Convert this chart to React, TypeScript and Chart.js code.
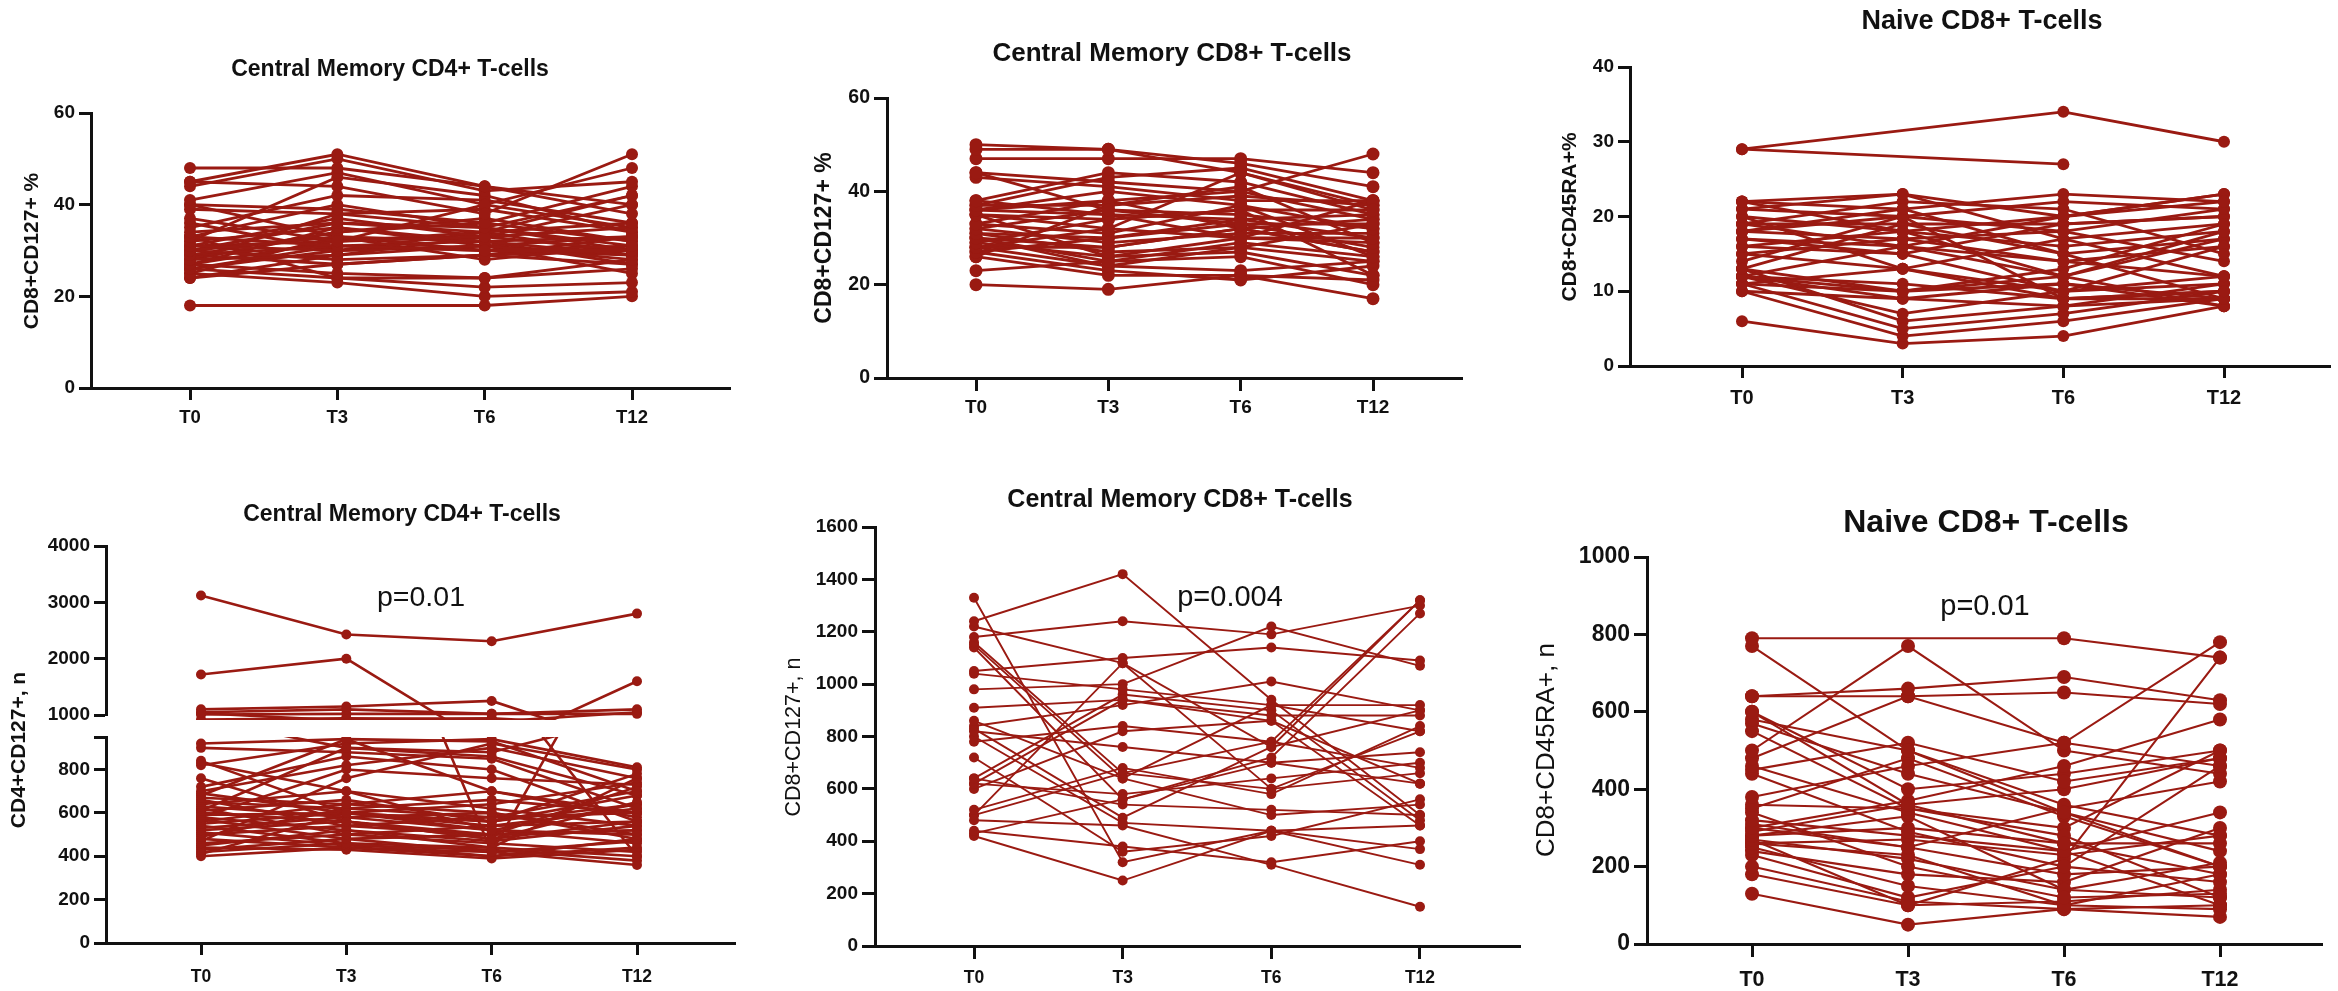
import React, { useEffect, useRef } from "react";
import { Chart, registerables } from "chart.js";

Chart.register(...registerables);

const timepoints = ["T0", "T3", "T6", "T12"];
const RED = "#9a1a12";

type Row = (number | null)[];

// Central Memory CD4+ T-cells, % (T0, T3, T6, T12 per subject)
const cm4Pct: Row[] = [
  [48, 48, 44, 38], [45, 51, 44, 40], [44, 50, 43, 45], [45, 44, 38, 51], [41, 47, 40, 48],
  [40, 39, 36, 44], [39, 38, 35, 42], [37, 32, 33, 40], [34, 36, 34, 36], [33, 40, 35, 31],
  [33, 31, 30, 30], [32, 35, 32, 29], [31, 37, 33, 35], [31, 30, 31, 28], [30, 33, 32, 33],
  [30, 28, 29, 27], [29, 34, 37, 32], [29, 31, 30, 31], [28, 29, 33, 30], [28, 38, 39, 34],
  [27, 25, 24, 26], [27, 32, 34, 29], [26, 24, 22, 23], [26, 30, 31, 25], [25, 33, 28, 31],
  [25, 23, 20, 21], [24, 27, 29, 30], [24, 29, 31, 33], [18, null, 18, 20], [35, 42, 41, 36],
  [32, 46, 42, 34], [40, 33, 30, 29], [30, 36, 35, 30], [28, 34, 36, 32], [26, 31, 32, 27],
  [36, 30, 34, 42], [29, 27, 29, 33], [31, 32, 40, 35], [33, 24, 24, 28], [27, 35, 31, 29],
];

// Central Memory CD8+ T-cells, %
const cm8Pct: Row[] = [
  [50, 49, 44, 36], [49, 49, 46, 41], [47, 47, 47, 44], [44, 42, 40, 48], [43, 41, 38, 38],
  [44, 36, 33, 33], [38, 44, 42, 35], [37, 37, 39, 37], [36, 40, 37, 32], [36, 35, 34, 30],
  [35, 34, 36, 36], [35, 32, 30, 29], [33, 38, 40, 34], [32, 29, 31, 31], [31, 30, 33, 28],
  [31, 27, 28, 33], [30, 25, 29, 26], [29, 34, 36, 22], [29, 26, 30, 30], [28, 28, 32, 27],
  [28, 24, 23, 25], [27, 23, 21, 24], [27, 30, 34, 35], [26, 22, 22, 21], [23, 25, 26, 20],
  [20, 19, 22, 17], [38, 35, 30, 38], [37, 43, 45, 38], [32, 36, 35, 32], [30, 28, 32, 34],
  [33, 31, 37, 26], [26, 37, 41, 29], [35, 26, 27, 22], [28, 32, 44, 37], [36, 38, 32, 27],
  [30, 24, 28, 25],
];

// Naive CD8+ T-cells, %
const naive8Pct: Row[] = [
  [29, null, 34, 30], [29, null, 27, null], [22, 21, 23, 22], [22, 23, 20, 23], [21, 20, 18, 21],
  [21, 23, 17, 19], [20, 18, 16, 18], [19, 19, 19, 20], [19, 22, 21, 15], [18, 17, 14, 16],
  [18, 20, 22, 21], [17, 16, 12, 17], [17, 15, 19, 20], [16, 18, 20, 22], [16, 15, 10, 12],
  [15, 17, 18, 14], [15, 13, 9, 10], [13, 19, 15, 17], [13, 10, 11, 9], [12, 10, 13, 19],
  [12, 9, 8, 9], [12, 7, 10, 11], [11, 10, 12, 8], [11, 5, 7, 10], [11, 13, 17, 12],
  [10, 4, 6, 9], [10, 9, 11, 8], [6, 3, 4, 8], [12, 16, 14, 12], [14, 20, 9, 9],
  [20, 13, 10, 16], [18, 21, 15, 9], [13, 6, 8, 11], [19, 16, 20, 23], [22, 18, 12, 18],
  [12, 11, 9, 10],
];

// Central Memory CD4+ T-cells, n
const cm4Count: Row[] = [
  [3120, 2430, 2310, 2800], [1720, 2000, 420, 1600], [1100, 1150, 1250, 400], [1050, 1100, 1020, 1100],
  [1010, 1020, 1020, 1020], [1030, 900, 880, 1050],
  [920, 940, 930, 700], [900, 880, 850, 620], [840, 600, 560, 780], [820, 920, 940, 810],
  [830, 700, 520, 500], [760, 560, 480, 650], [700, 820, 900, 760], [690, 600, 540, 560],
  [670, 640, 600, 480], [660, 540, 500, 720], [650, 620, 580, 600], [640, 700, 620, 540],
  [630, 580, 520, 460], [620, 500, 460, 420], [610, 660, 560, 680], [600, 560, 500, 520],
  [590, 600, 640, 740], [580, 520, 440, 400], [570, 480, 420, 360], [560, 640, 700, 580],
  [550, 600, 520, 640], [540, 460, 400, 440], [530, 580, 600, 500], [520, 560, 480, 560],
  [510, 450, 430, 380], [500, 540, 580, 700], [490, 620, 660, 600], [480, 440, 420, 470],
  [460, 500, 540, 620], [450, 520, 470, 540], [440, 430, 390, 430], [430, 480, 500, 520],
  [420, 460, 440, 760], [410, 600, 560, 640], [400, 440, 400, 480], [720, 860, 800, 560],
  [610, 900, 860, 680], [470, 760, 920, 800], [680, 940, 700, 600], [580, 800, 760, 730],
];

// Central Memory CD8+ T-cells, n
const cm8Count: Row[] = [
  [1330, 320, 440, 370], [1240, 1420, 940, 500], [1220, 1080, 760, 1320], [1180, 1240, 1190, 1300],
  [1160, 660, 600, 820], [1140, 560, 720, 1270], [1050, 1100, 1140, 1090], [1040, 980, 920, 920],
  [980, 1000, 1220, 1070], [910, 940, 880, 880], [860, 640, 500, 540], [840, 920, 1010, 900],
  [820, 760, 700, 740], [800, 470, 440, 460], [780, 840, 780, 680], [720, 360, 420, 560],
  [640, 960, 900, 480], [620, 580, 640, 700], [600, 820, 860, 620], [520, 680, 580, 840],
  [500, 1080, 600, 660], [480, 460, 310, 150], [440, 380, 320, 400], [420, 250, 440, 310],
  [640, 540, 520, 500], [830, 490, 760, 900], [1150, 640, 920, 820], [500, 660, 780, 1320],
  [430, 560, 700, 620], [620, 940, 860, 460],
];

// Naive CD8+ T-cells, n
const naive8Count: Row[] = [
  [790, null, 790, 740], [770, 500, 340, 200], [640, 660, 690, 630], [640, 640, 520, 460],
  [600, 360, 260, 180], [580, 500, 360, 280], [570, 440, 340, 240], [550, 350, 280, 120],
  [500, 770, 500, 440], [480, 640, 650, 620], [460, 340, 240, 100], [450, 520, 420, 480],
  [440, 290, 200, 160], [380, 460, 520, 780], [360, 350, 300, 500], [340, 200, 120, 130],
  [320, 280, 240, 340], [300, 250, 180, 200], [290, 360, 400, 480], [280, 300, 260, 260],
  [270, 220, 140, 120], [260, 270, 230, 280], [250, 150, 100, 90], [240, 180, 160, 300],
  [200, 110, 90, 70], [180, 100, 110, 140], [130, 50, 90, 100], [300, 370, 460, 580],
  [270, 100, 220, 740], [350, 480, 330, 200], [260, 230, 100, 180], [310, 250, 350, 420],
  [230, 120, 200, 460], [280, 330, 140, 210], [600, 400, 440, 500],
];

const pctTicks = [0, 20, 40, 60];
const naivePctTicks = [0, 10, 20, 30, 40];
const cm4UpperTicks = [1000, 2000, 3000, 4000];
const cm4LowerTicks = [0, 200, 400, 600, 800, 950];
const cm8CountTicks = [0, 200, 400, 600, 800, 1000, 1200, 1400, 1600];
const naiveCountTicks = [0, 200, 400, 600, 800, 1000];

interface TextItem { text: string; x: number; y: number; size: number; bold?: boolean; rotate?: boolean }

interface Panel {
  box: { left: number; top: number; width: number; height: number };
  area: { l: number; r: number; t: number; b: number };
  t0: number; t12: number;
  rows: Row[];
  yMin: number; yMax: number; yTicks: number[]; hidden?: number[];
  showX: boolean;
  tickSize: number; xSize: number; labelY: number; tickLen: number;
  lineWidth: number; radius: number;
  clip?: any;
  texts: TextItem[];
}

const panels: Panel[] = [
  {
    box: { left: 0, top: 0, width: 780, height: 450 },
    area: { l: 91, r: 730, t: 113, b: 388 }, t0: 190, t12: 632,
    rows: cm4Pct, yMin: 0, yMax: 60, yTicks: pctTicks, showX: true,
    tickSize: 19, xSize: 18.5, labelY: 418, tickLen: 12, lineWidth: 2.8, radius: 6,
    texts: [
      { text: "Central Memory CD4+ T-cells", x: 390, y: 70, size: 23, bold: true },
      { text: "CD8+CD127+ %", x: 32, y: 251, size: 21, bold: true, rotate: true },
    ],
  },
  {
    box: { left: 780, top: 0, width: 780, height: 450 },
    area: { l: 887, r: 1462, t: 98, b: 378 }, t0: 976, t12: 1373,
    rows: cm8Pct, yMin: 0, yMax: 60, yTicks: pctTicks, showX: true,
    tickSize: 19.5, xSize: 19, labelY: 408, tickLen: 13, lineWidth: 2.8, radius: 6.5,
    texts: [
      { text: "Central Memory CD8+ T-cells", x: 1172, y: 54, size: 26, bold: true },
      { text: "CD8+CD127+ %", x: 825, y: 238, size: 23, bold: true, rotate: true },
    ],
  },
  {
    box: { left: 1560, top: 0, width: 778, height: 450 },
    area: { l: 1630, r: 2330, t: 67, b: 366 }, t0: 1742, t12: 2224,
    rows: naive8Pct, yMin: 0, yMax: 40, yTicks: naivePctTicks, showX: true,
    tickSize: 19, xSize: 20, labelY: 398, tickLen: 12, lineWidth: 2.8, radius: 6,
    texts: [
      { text: "Naive CD8+ T-cells", x: 1982, y: 22, size: 27, bold: true },
      { text: "CD8+CD45RA+%", x: 1570, y: 217, size: 21, bold: true, rotate: true },
    ],
  },
  {
    box: { left: 0, top: 450, width: 780, height: 541 },
    area: { l: 106, r: 735, t: 546, b: 715 }, t0: 201, t12: 637,
    rows: cm4Count, yMin: 1000, yMax: 4000, yTicks: cm4UpperTicks, showX: false,
    tickSize: 19, xSize: 17.5, labelY: 977, tickLen: 12, lineWidth: 2.6, radius: 5,
    clip: { left: 10, right: 10, top: 10, bottom: 5 },
    texts: [
      { text: "Central Memory CD4+ T-cells", x: 402, y: 515, size: 23, bold: true },
      { text: "CD4+CD127+, n", x: 19, y: 750, size: 21, bold: true, rotate: true },
      { text: "p=0.01", x: 421, y: 598, size: 28.5 },
    ],
  },
  {
    box: { left: 0, top: 450, width: 780, height: 541 },
    area: { l: 106, r: 735, t: 737, b: 943 }, t0: 201, t12: 637,
    rows: cm4Count, yMin: 0, yMax: 950, yTicks: cm4LowerTicks, hidden: [950], showX: true,
    tickSize: 19, xSize: 17.5, labelY: 977, tickLen: 12, lineWidth: 2.6, radius: 5,
    clip: { left: 10, right: 10, top: 0, bottom: 10 },
    texts: [],
  },
  {
    box: { left: 780, top: 450, width: 750, height: 541 },
    area: { l: 875, r: 1520, t: 527, b: 946 }, t0: 974, t12: 1420,
    rows: cm8Count, yMin: 0, yMax: 1600, yTicks: cm8CountTicks, showX: true,
    tickSize: 19, xSize: 17.5, labelY: 978, tickLen: 13, lineWidth: 1.9, radius: 5,
    texts: [
      { text: "Central Memory CD8+ T-cells", x: 1180, y: 500, size: 25, bold: true },
      { text: "CD8+CD127+, n", x: 794, y: 737, size: 21.5, rotate: true },
      { text: "p=0.004", x: 1230, y: 598, size: 29 },
    ],
  },
  {
    box: { left: 1530, top: 450, width: 808, height: 541 },
    area: { l: 1647, r: 2322, t: 557, b: 944 }, t0: 1752, t12: 2220,
    rows: naive8Count, yMin: 0, yMax: 1000, yTicks: naiveCountTicks, showX: true,
    tickSize: 23, xSize: 21.5, labelY: 980, tickLen: 13, lineWidth: 2.1, radius: 7,
    texts: [
      { text: "Naive CD8+ T-cells", x: 1986, y: 523, size: 32, bold: true },
      { text: "CD8+CD45RA+, n", x: 1547, y: 750, size: 26, rotate: true },
      { text: "p=0.01", x: 1985, y: 607, size: 29 },
    ],
  },
];

const FAMILY = '"Liberation Sans", Arial, Helvetica, sans-serif';

function textPlugin(items: TextItem[], ox: number, oy: number) {
  return {
    id: "panelText",
    afterDraw(chart: any) {
      const ctx: CanvasRenderingContext2D = chart.ctx;
      ctx.save();
      for (const it of items) {
        ctx.font = `${it.bold ? "bold " : ""}${it.size}px ${FAMILY}`;
        ctx.fillStyle = "#111";
        ctx.textAlign = "center";
        ctx.textBaseline = "middle";
        ctx.save();
        ctx.translate(it.x - ox, it.y - oy);
        if (it.rotate) ctx.rotate(-Math.PI / 2);
        ctx.fillText(it.text, 0, 0);
        ctx.restore();
      }
      ctx.restore();
    },
  };
}

function buildChart(canvas: HTMLCanvasElement, p: Panel): Chart {
  const unit = (p.t12 - p.t0) / 3;
  const xmin = (p.area.l - p.t0) / unit;
  const xmax = (p.area.r - p.t0) / unit;
  const YW = p.area.l - p.box.left;
  const boxBottom = p.box.top + p.box.height;
  const XH = p.showX ? boxBottom - p.area.b : 0;
  const padding = {
    left: 0,
    right: p.box.left + p.box.width - p.area.r,
    top: p.area.t - p.box.top,
    bottom: p.showX ? 0 : boxBottom - p.area.b,
  };
  const xPad = p.labelY - p.area.b - p.tickLen - 0.6 * p.xSize;
  const datasets = p.rows.map((row) => {
    const ds: any = {
      data: row.map((v, i) => ({ x: i, y: v })),
      borderColor: RED,
      backgroundColor: RED,
      pointBackgroundColor: RED,
      pointBorderColor: RED,
      borderWidth: p.lineWidth,
      pointRadius: p.radius,
      pointHoverRadius: p.radius,
      pointBorderWidth: 0,
      spanGaps: true,
      tension: 0,
    };
    if (p.clip) ds.clip = p.clip;
    return ds;
  });
  const axisCommon = {
    grid: { display: true, drawOnChartArea: false, drawTicks: true, tickLength: p.tickLen, tickWidth: 3, tickColor: "#111", color: "#111" },
    border: { display: true, color: "#111", width: 3 },
  };
  return new Chart(canvas, {
    type: "line",
    data: { datasets },
    plugins: [textPlugin(p.texts, p.box.left, p.box.top)],
    options: {
      animation: false,
      responsive: false,
      maintainAspectRatio: false,
      devicePixelRatio: 1,
      events: [],
      layout: { padding },
      plugins: { legend: { display: false }, tooltip: { enabled: false }, title: { display: false } },
      scales: {
        x: {
          type: "linear",
          display: p.showX,
          min: xmin,
          max: xmax,
          bounds: "data",
          afterBuildTicks: (s: any) => { s.ticks = timepoints.map((_, i) => ({ value: i })); },
          afterFit: (s: any) => { s.height = XH; },
          ticks: {
            autoSkip: false,
            maxRotation: 0,
            padding: xPad,
            color: "#111",
            font: { family: FAMILY, size: p.xSize, weight: "bold" },
            callback: (v: any) => timepoints[Math.round(Number(v))] ?? "",
          },
          ...axisCommon,
        },
        y: {
          type: "linear",
          min: p.yMin,
          max: p.yMax,
          bounds: "data",
          afterBuildTicks: (s: any) => { s.ticks = p.yTicks.map((v) => ({ value: v })); },
          afterFit: (s: any) => { s.width = YW; },
          ticks: {
            autoSkip: false,
            padding: 4,
            color: "#111",
            font: { family: FAMILY, size: p.tickSize, weight: "bold" },
            callback: (v: any) => (p.hidden && p.hidden.includes(Number(v)) ? "" : String(v)),
          },
          ...axisCommon,
        },
      },
    } as any,
  });
}

export default function App() {
  const refs = useRef<(HTMLCanvasElement | null)[]>([]);
  useEffect(() => {
    const charts = panels.map((p, i) => buildChart(refs.current[i] as HTMLCanvasElement, p));
    return () => charts.forEach((c) => c.destroy());
  }, []);
  return (
    <div style={{ position: "absolute", left: 0, top: 0, width: 2338, height: 991, background: "#fff", overflow: "hidden" }}>
      {panels.map((p, i) => (
        <canvas
          key={i}
          ref={(el) => { refs.current[i] = el; }}
          width={p.box.width}
          height={p.box.height}
          style={{ position: "absolute", left: p.box.left, top: p.box.top, width: p.box.width, height: p.box.height }}
        />
      ))}
    </div>
  );
}
